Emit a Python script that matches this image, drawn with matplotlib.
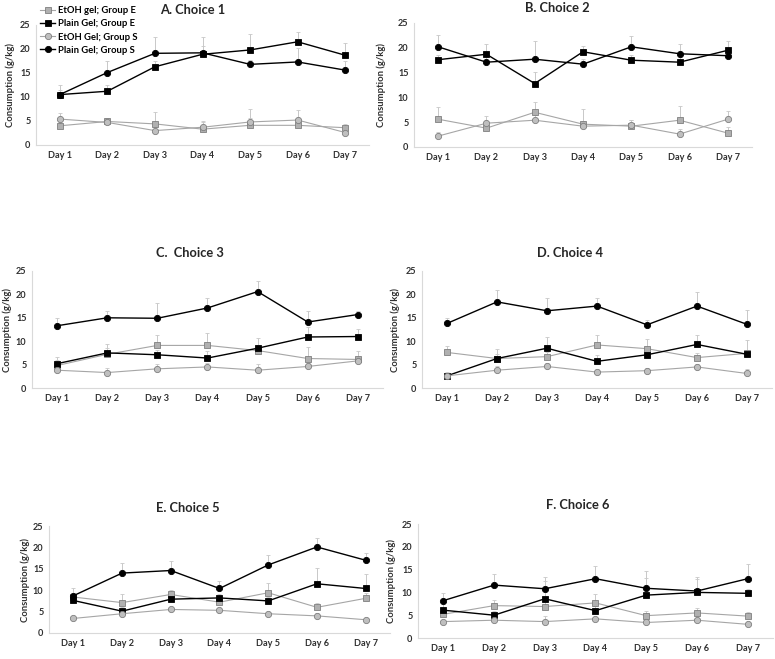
import numpy as np
import matplotlib
matplotlib.use('Agg')
import matplotlib.pyplot as plt

plt.rcParams['font.family'] = ['Lato', 'DejaVu Sans']

days = ['Day 1', 'Day 2', 'Day 3', 'Day 4', 'Day 5', 'Day 6', 'Day 7']
titles = ['A. Choice 1', 'B. Choice 2', 'C.  Choice 3',
          'D. Choice 4', 'E. Choice 5', 'F. Choice 6']
labels = ['EtOH gel; Group E', 'Plain Gel; Group E',
          'EtOH Gel; Group S', 'Plain Gel; Group S']

# one row per panel (A..F), one value per day
etoh_e = [[4.0, 4.9, 4.4, 3.3, 4.1, 4.1, 3.6],
          [5.6, 3.8, 7.0, 4.6, 4.2, 5.4, 2.8],
          [4.8, 7.2, 9.1, 9.1, 8.0, 6.3, 6.1],
          [7.6, 6.3, 6.7, 9.2, 8.4, 6.5, 7.4],
          [8.4, 7.1, 9.0, 7.2, 9.4, 6.0, 8.1],
          [5.2, 7.1, 6.9, 7.7, 4.9, 5.5, 4.8]]
plain_e = [[10.5, 11.2, 16.3, 18.9, 19.8, 21.5, 18.7],
           [17.6, 18.7, 12.8, 19.2, 17.5, 17.1, 19.5],
           [5.2, 7.5, 7.1, 6.4, 8.5, 10.9, 11.0],
           [2.6, 6.3, 8.5, 5.7, 7.1, 9.3, 7.2],
           [7.6, 5.1, 7.9, 8.2, 7.5, 11.5, 10.4],
           [6.1, 5.0, 8.6, 6.0, 9.4, 10.0, 9.8]]
etoh_s = [[5.4, 4.7, 3.0, 3.7, 4.8, 5.2, 2.6],
          [2.2, 4.8, 5.4, 4.2, 4.4, 2.6, 5.6],
          [3.8, 3.3, 4.1, 4.5, 3.8, 4.6, 5.8],
          [2.6, 3.8, 4.6, 3.4, 3.7, 4.5, 3.1],
          [3.4, 4.5, 5.5, 5.3, 4.5, 4.0, 3.1],
          [3.6, 3.9, 3.6, 4.2, 3.4, 3.9, 3.0]]
plain_s = [[10.5, 15.1, 19.1, 19.2, 16.8, 17.3, 15.6],
           [20.2, 17.1, 17.7, 16.7, 20.2, 18.8, 18.4],
           [13.3, 15.0, 14.9, 17.1, 20.6, 14.1, 15.7],
           [13.8, 18.4, 16.5, 17.5, 13.5, 17.5, 13.6],
           [8.7, 14.0, 14.6, 10.4, 15.9, 20.1, 17.0],
           [8.2, 11.6, 10.8, 13.0, 10.9, 10.3, 13.0]]

# upper error bars (SEM)
etoh_e_err = [[0.8, 0.6, 2.5, 1.5, 1.6, 1.5, 0.7],
              [2.5, 1.0, 2.1, 3.0, 1.3, 2.9, 1.2],
              [1.2, 1.4, 2.2, 2.6, 1.2, 2.4, 1.7],
              [1.3, 1.0, 1.0, 2.1, 2.1, 1.0, 2.9],
              [1.0, 2.0, 1.1, 1.0, 2.2, 1.0, 1.3],
              [0.8, 1.3, 1.2, 2.0, 1.0, 1.1, 0.8]]
plain_e_err = [[1.0, 1.3, 1.2, 3.6, 3.4, 2.0, 2.5],
               [1.0, 2.1, 2.4, 1.2, 1.0, 1.0, 1.9],
               [1.5, 1.8, 1.0, 1.4, 2.1, 2.1, 1.7],
               [0.8, 2.0, 2.3, 1.3, 1.0, 2.0, 1.0],
               [1.0, 1.0, 1.0, 1.0, 1.0, 3.7, 3.3],
               [1.5, 1.0, 3.9, 1.0, 3.8, 3.0, 1.0]]
etoh_s_err = [[1.2, 1.0, 0.8, 1.2, 2.6, 2.0, 0.8],
              [0.8, 1.4, 1.0, 1.0, 1.1, 1.0, 1.6],
              [0.6, 0.9, 1.1, 0.8, 1.4, 0.8, 0.6],
              [0.5, 0.9, 0.8, 0.6, 0.6, 0.7, 1.0],
              [0.4, 0.5, 0.6, 0.5, 0.5, 0.6, 0.5],
              [0.4, 0.5, 1.2, 0.5, 0.4, 0.5, 0.4]]
plain_s_err = [[2.0, 2.4, 3.3, 1.5, 1.0, 3.0, 2.0],
               [2.3, 1.2, 3.7, 1.0, 2.1, 2.0, 1.0],
               [1.6, 1.5, 3.3, 2.2, 2.3, 2.3, 0.8],
               [1.1, 2.5, 2.8, 1.8, 1.0, 3.0, 3.0],
               [1.7, 2.3, 2.2, 1.8, 2.3, 2.1, 1.6],
               [1.6, 2.4, 2.5, 2.8, 3.8, 3.0, 3.2]]

W, H = 775, 659
fig = plt.figure(figsize=(W / 100, H / 100), dpi=100)

# pixel boxes: left, right, y of 0, y of 25
boxes = [(36, 369, 145, 25), (414, 752, 147, 23),
         (32, 383, 388, 271), (422, 772, 388, 271),
         (49, 390, 633, 526), (418, 773, 638, 524)]
title_pos = [(193, 10), (557, 8), (190, 253), (570, 253), (188, 508), (578, 505)]
ylab_pos = [(10, 85), (381, 85), (7, 330), (395, 330), (25, 580), (391, 581)]

styles = [dict(marker='s', color='#a6a6a6', mfc='#b0b0b0', mec='#7f7f7f', lw=0.8),
          dict(marker='s', color='black', mfc='black', mec='black', lw=1.0),
          dict(marker='o', color='#a6a6a6', mfc='#bfbfbf', mec='#7f7f7f', lw=0.8),
          dict(marker='o', color='black', mfc='black', mec='black', lw=1.0)]

x = np.arange(len(days))
handles = []
for i, (xl, xr, y0, y25) in enumerate(boxes):
    ax = fig.add_axes([xl / W, 1 - y0 / H, (xr - xl) / W, (y0 - y25) / H])
    series = [etoh_e[i], plain_e[i], etoh_s[i], plain_s[i]]
    errs = [etoh_e_err[i], plain_e_err[i], etoh_s_err[i], plain_s_err[i]]
    for vals, err, st in zip(series, errs, styles):
        vals = np.array(vals)
        ax.errorbar(x, vals, yerr=[np.zeros(7), err], fmt='none',
                    ecolor='#c8c8c8', elinewidth=0.7, capsize=1.5,
                    capthick=0.6, zorder=1)
        h, = ax.plot(x, vals, marker=st['marker'], color=st['color'],
                     mfc=st['mfc'], mec=st['mec'], lw=st['lw'],
                     ms=4.5, mew=0.6, zorder=2)
        if i == 0:
            handles.append(h)
    ax.set_xlim(-0.5, 6.5)
    ax.set_ylim(0, 25)
    ax.set_yticks([0, 5, 10, 15, 20, 25])
    ax.set_xticks(x)
    ax.set_xticklabels(days)
    ax.tick_params(length=0, labelsize=6.6, colors='#303030', pad=4)
    for lab in ax.get_xticklabels() + ax.get_yticklabels():
        lab.set_fontweight('bold')
    for s in ['top', 'right']:
        ax.spines[s].set_visible(False)
    for s in ['left', 'bottom']:
        ax.spines[s].set_color('#d9d9d9')
        ax.spines[s].set_linewidth(0.8)
    ax.patch.set_alpha(0)
    tx, ty = title_pos[i]
    fig.text(tx / W, 1 - ty / H, titles[i], ha='center', va='center',
             fontsize=9.3, fontweight='bold', color='#262626')
    lx, ly = ylab_pos[i]
    fig.text(lx / W, 1 - ly / H, 'Consumption (g/kg)', ha='center',
             va='center', rotation=90, fontsize=6.8, fontweight='bold',
             color='#303030')

fig.legend(handles, labels, loc='upper left', bbox_to_anchor=(40 / W, 1 - 6 / H),
           frameon=False, handlelength=1.6, handletextpad=0.3,
           labelspacing=0.45, borderaxespad=0, borderpad=0,
           prop=dict(weight='bold', size=6.8))

fig.savefig('out.png', dpi=100)
plt.close(fig)
